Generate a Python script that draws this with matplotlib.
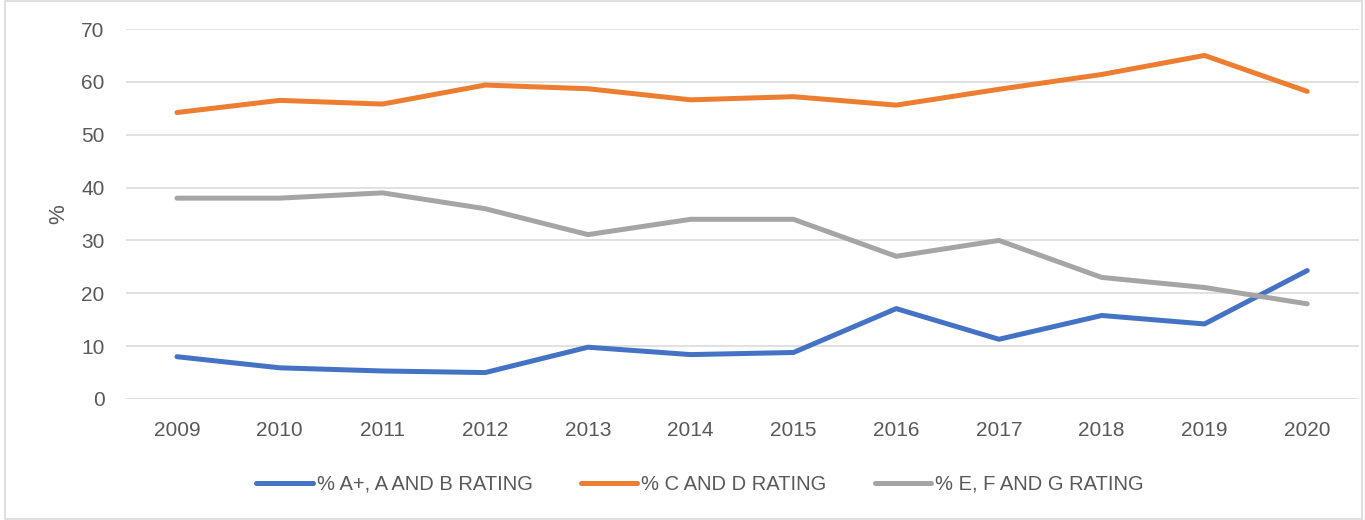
import matplotlib.pyplot as plt
from matplotlib.patches import Rectangle

years = ["2009", "2010", "2011", "2012", "2013", "2014",
         "2015", "2016", "2017", "2018", "2019", "2020"]
ab_rating = [8.0, 5.9, 5.3, 5.0, 9.8, 8.4, 8.8, 17.1, 11.3, 15.8, 14.2, 24.3]
cd_rating = [54.2, 56.5, 55.8, 59.4, 58.7, 56.6, 57.2, 55.6, 58.6, 61.4, 65.0, 58.2]
efg_rating = [38.0, 38.0, 39.0, 36.0, 31.1, 34.0, 34.0, 27.0, 30.0, 23.0, 21.1, 18.0]
yticks = [0, 10, 20, 30, 40, 50, 60, 70]

plt.rcParams['font.family'] = ['Liberation Sans', 'DejaVu Sans']
text_col = '#595959'
grid_col = '#d9d9d9'

fig = plt.figure(figsize=(13.65, 5.2), dpi=100)
ax = fig.add_axes([0.092, 0.2327, 0.9033, 0.7115])

x = list(range(len(years)))
ax.plot(x, ab_rating, color='#4472c4', lw=3.6, solid_capstyle='round', label='% A+, A AND B RATING')
ax.plot(x, cd_rating, color='#ed7d31', lw=3.6, solid_capstyle='round', label='% C AND D RATING')
ax.plot(x, efg_rating, color='#a5a5a5', lw=3.6, solid_capstyle='round', label='% E, F AND G RATING')

ax.set_xlim(-0.5, len(years) - 0.5)
ax.set_ylim(0, 70)
ax.set_xticks(x)
ax.set_xticklabels(years)
ax.set_yticks(yticks)
ax.tick_params(axis='both', length=0, labelsize=15, labelcolor=text_col)
ax.tick_params(axis='x', pad=15.5)
ax.tick_params(axis='y', pad=15)
for s in ax.spines.values():
    s.set_visible(False)
ax.grid(axis='y', color=grid_col, lw=1.1)
ax.set_axisbelow(True)
ax.set_ylabel('%', fontsize=16, color=text_col, labelpad=9)

leg = fig.legend(loc='center', bbox_to_anchor=(0.513, 0.069), ncol=3, frameon=False,
                 fontsize=14.5, handlelength=2.8, handletextpad=0.2, columnspacing=2.4)
for t in leg.get_texts():
    t.set_color(text_col)

# light border around the chart
fig.patches.append(Rectangle((0.004, 0.002), 0.9935, 0.996, transform=fig.transFigure,
                             fill=False, edgecolor=grid_col, lw=1.2))

fig.savefig('out.png', dpi=100)
